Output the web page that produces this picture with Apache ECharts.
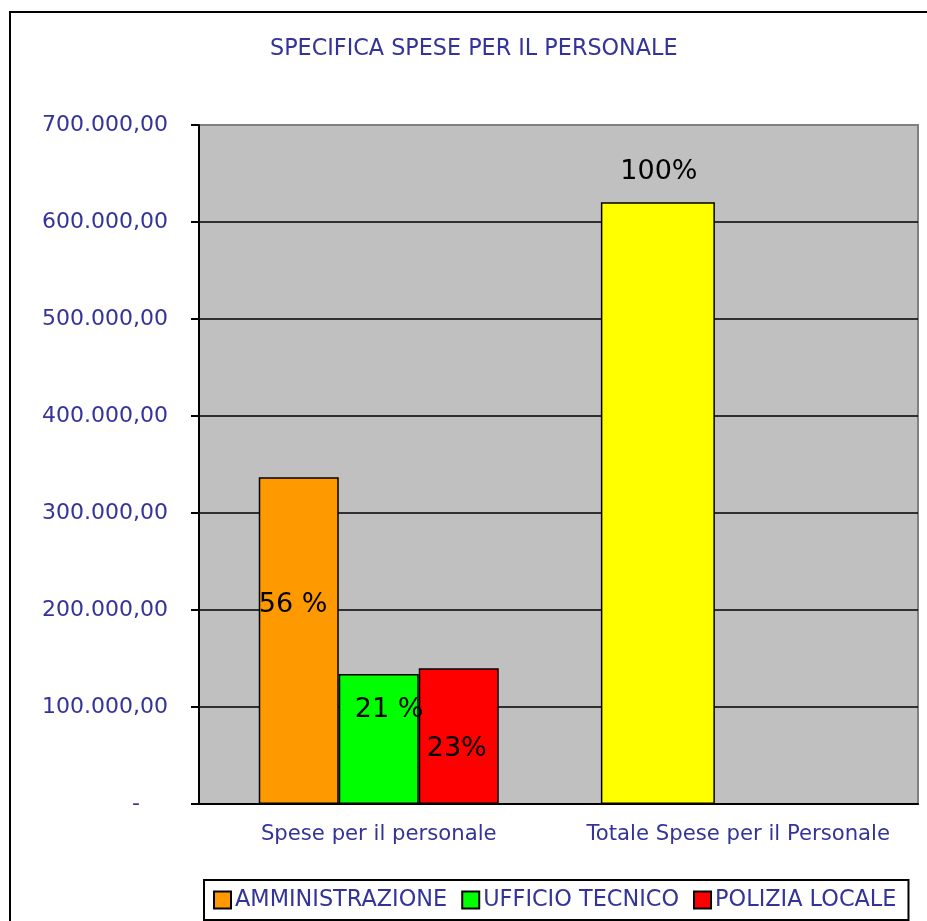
<!DOCTYPE html>
<html>
<head>
<meta charset="utf-8">
<script src="https://cdn.jsdelivr.net/npm/echarts@6/dist/echarts.min.js"></script>
<style>
  html, body { margin: 0; padding: 0; background: #fff; }
  #chart { width: 927px; height: 921px; }
</style>
</head>
<body>
<div id="chart"></div>
<script>
const categories = ["Spese per il personale", "Totale Spese per il Personale"];
const amministrazione = [336800, null];
const ufficioTecnico = [134000, null];
const poliziaLocale = [139900, null];
const totale = [null, 620300];
const percentLabels = { amministrazione: "56 %", ufficioTecnico: "21 %", poliziaLocale: "23%", totale: "100%" };

const blue = "#333399";
const font = "DejaVu Sans";

function fmt(v) {
  if (v === 0) return "-    ";
  return v.toLocaleString("de-DE") + ",00";
}

let chart = echarts.init(document.getElementById("chart"));

const barBorder = { borderColor: "#000", borderWidth: 1.5 };
const pctLabel = (text, pos) => ({
  show: true,
  position: pos,
  align: "left",
  verticalAlign: "middle",
  formatter: text,
  color: "#000",
  fontFamily: font,
  fontSize: 27
});

chart.setOption({
  backgroundColor: "#fff",
  animation: false,
  title: {
    text: "SPECIFICA SPESE PER IL PERSONALE",
    left: 265,
    top: 33,
    textStyle: { color: blue, fontFamily: font, fontSize: 22.3, fontWeight: "normal" }
  },
  graphic: [{
    type: "rect",
    shape: { x: 10, y: 12, width: 1000, height: 1000 },
    style: { fill: "none", stroke: "#000", lineWidth: 2 },
    silent: true
  }],
  legend: {
    data: ["AMMINISTRAZIONE", "UFFICIO TECNICO", "POLIZIA LOCALE"],
    left: 204,
    top: 880,
    padding: [9, 12, 9, 9],
    borderColor: "#000",
    borderWidth: 2,
    itemWidth: 17,
    itemHeight: 17,
    itemGap: 14,
    icon: "rect",
    textStyle: { color: blue, fontFamily: font, fontSize: 22.4, padding: [0, 0, 0, -1] }
  },
  grid: {
    left: 199, top: 125, right: 9, bottom: 117,
    show: true, backgroundColor: "#c0c0c0", borderColor: "#808080", borderWidth: 2
  },
  xAxis: [{
    type: "category",
    data: categories,
    axisLine: { lineStyle: { color: "#000", width: 2 } },
    axisTick: { length: 8, lineStyle: { color: "#000", width: 2 } },
    axisLabel: { interval: 0, color: blue, fontFamily: font, fontSize: 21.2, margin: 20 }
  }, {
    type: "category",
    data: categories,
    show: false
  }],
  yAxis: {
    type: "value",
    min: 0,
    max: 700000,
    interval: 100000,
    axisLine: { show: true, lineStyle: { color: "#000", width: 2 } },
    axisTick: { show: true, length: 8, lineStyle: { color: "#000", width: 2 } },
    axisLabel: { color: blue, fontFamily: font, fontSize: 22, margin: 31, formatter: fmt },
    splitLine: { show: true, showMaxLine: false, lineStyle: { color: "#000", width: 1.5 } }
  },
  series: [{
    name: "AMMINISTRAZIONE",
    type: "bar",
    data: amministrazione,
    barWidth: 80,
    barGap: "0%",
    itemStyle: Object.assign({ color: "#ff9900" }, barBorder),
    label: pctLabel(percentLabels.amministrazione, [0, 128])
  }, {
    name: "UFFICIO TECNICO",
    type: "bar",
    data: ufficioTecnico,
    barWidth: 80,
    barGap: "0%",
    itemStyle: Object.assign({ color: "#00ff00" }, barBorder),
    label: pctLabel(percentLabels.ufficioTecnico, [16, 36])
  }, {
    name: "POLIZIA LOCALE",
    type: "bar",
    data: poliziaLocale,
    barWidth: 80,
    barGap: "0%",
    itemStyle: Object.assign({ color: "#ff0000" }, barBorder),
    label: pctLabel(percentLabels.poliziaLocale, [8, 81])
  }, {
    name: "TOTALE",
    type: "bar",
    xAxisIndex: 1,
    data: totale,
    barWidth: 114,
    barGap: "41%",
    itemStyle: Object.assign({ color: "#ffff00" }, barBorder),
    label: Object.assign(pctLabel(percentLabels.totale, [58, -30]), { align: "center" })
  }, {
    // empty spacer so the total bar sits left of the category centre
    name: "spacer",
    type: "bar",
    xAxisIndex: 1,
    data: [null, null],
    barWidth: 114,
    barGap: "41%"
  }]
}, true);

window.addEventListener("resize", () => {
  if (chart) {
    chart.resize();
  }
});
</script>
</body>
</html>
